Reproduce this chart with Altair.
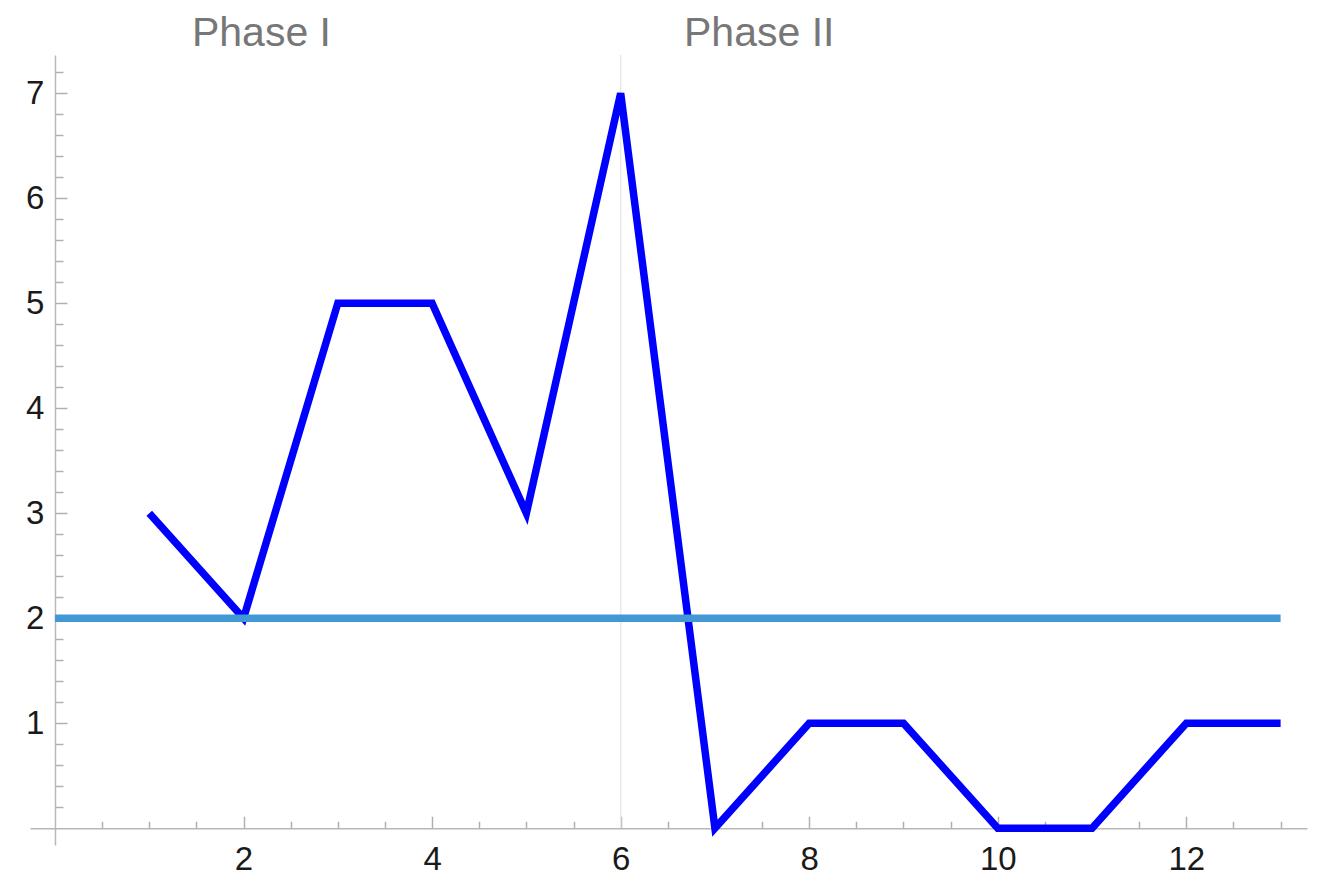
import altair as alt
import pandas as pd

# ---- data ----
session = [1, 2, 3, 4, 5, 6, 7, 8, 9, 10, 11, 12, 13]
count = [3, 2, 5, 5, 3, 7, 0, 1, 1, 0, 0, 1, 1]

criterion_level = [2]
criterion_from = [0]
criterion_to = [13]

phase_change_at = [6]
phase_names = ["Phase I", "Phase II"]
phase_label_x = [2.19, 7.47]
phase_label_y = [7.45, 7.45]

x_major = [2, 4, 6, 8, 10, 12]
x_minor = [0.5, 1, 1.5, 2.5, 3, 3.5, 4.5, 5, 5.5, 6.5, 7, 7.5, 8.5, 9, 9.5,
           10.5, 11, 11.5, 12.5, 13]
y_major = [1, 2, 3, 4, 5, 6, 7]
y_minor = [round(i * 0.2, 1) for i in range(1, 37) if i % 5 != 0]

# ---- layout ----
W, H = 1277, 790
X_DOMAIN = [-0.265, 13.28]
Y_DOMAIN = [-0.16, 7.365]
x_zero_px = (0 - X_DOMAIN[0]) / (X_DOMAIN[1] - X_DOMAIN[0]) * W
y_zero_px = (0 - Y_DOMAIN[0]) / (Y_DOMAIN[1] - Y_DOMAIN[0]) * H

FONT = "Liberation Sans"
AXIS_GRAY = "#b8b8b8"
TICK_GRAY = "#b0b0b0"

xs = alt.Scale(domain=X_DOMAIN, nice=False, zero=False)
ys = alt.Scale(domain=Y_DOMAIN, nice=False, zero=False)

label_x_axis = alt.Axis(orient="bottom", offset=-y_zero_px, values=x_major,
                        ticks=False, grid=False, title=None,
                        domainColor=AXIS_GRAY, domainWidth=1.5,
                        labelFont=FONT, labelFontSize=33, labelColor="#1a1a1a",
                        labelPadding=15, labelFlush=False, labelOverlap=False)
label_y_axis = alt.Axis(orient="left", offset=-x_zero_px, values=y_major,
                        ticks=False, grid=False, title=None,
                        domainColor=AXIS_GRAY, domainWidth=1.5,
                        labelFont=FONT, labelFontSize=33, labelColor="#1a1a1a",
                        labelPadding=11, labelFlush=False, labelOverlap=False)


def tick_axis_x(values, size):
    return alt.Axis(orient="top", offset=-(H - y_zero_px), values=values,
                    domain=False, labels=False, grid=False, title=None,
                    tickSize=size, tickColor=TICK_GRAY, tickWidth=1.5)


def tick_axis_y(values, size):
    return alt.Axis(orient="right", offset=-(W - x_zero_px), values=values,
                    domain=False, labels=False, grid=False, title=None,
                    tickSize=size, tickColor=TICK_GRAY, tickWidth=1.5)


line_df = pd.DataFrame({"session": session, "count": count})
crit_df = pd.DataFrame({"x": criterion_from, "x2": criterion_to,
                        "y": criterion_level})
phase_df = pd.DataFrame({"x": phase_change_at, "y": [0]})
label_df = pd.DataFrame({"name": phase_names, "x": phase_label_x,
                         "y": phase_label_y})

phase_rule = alt.Chart(phase_df).mark_rule(color="#e8e8e8", strokeWidth=1.5).encode(
    x=alt.X("x:Q", scale=xs, axis=label_x_axis),
    y=alt.Y("y:Q", scale=ys, axis=label_y_axis),
    y2=alt.value(0),
)

data_line = alt.Chart(line_df).mark_line(
    color="#0000ff", strokeWidth=7.5, strokeJoin="miter", strokeCap="butt"
).encode(
    x=alt.X("session:Q", scale=xs, axis=tick_axis_x(x_major, 12)),
    y=alt.Y("count:Q", scale=ys, axis=tick_axis_y(y_major, 12)),
)

crit_rule = alt.Chart(crit_df).mark_rule(
    color="#4298d5", strokeWidth=7.5, strokeCap="butt"
).encode(
    x=alt.X("x:Q", scale=xs, axis=tick_axis_x(x_minor, 7)),
    x2="x2:Q",
    y=alt.Y("y:Q", scale=ys, axis=tick_axis_y(y_minor, 8)),
)

phase_text = alt.Chart(label_df).mark_text(
    font=FONT, fontSize=41, color="#777777", align="center",
    baseline="alphabetic"
).encode(
    x=alt.X("x:Q", scale=xs, axis=None),
    y=alt.Y("y:Q", scale=ys, axis=None),
    text="name:N",
)

chart = alt.layer(phase_rule, data_line, crit_rule, phase_text).resolve_scale(
    x="shared", y="shared"
).resolve_axis(
    x="independent", y="independent"
).properties(
    width=W, height=H,
    background="white",
    autosize=alt.AutoSizeParams(type="none"),
    padding={"left": 22, "top": 47, "right": 8, "bottom": 35},
).configure_view(strokeWidth=0)

chart.save("out.html", embed_options={"renderer": "svg", "actions": False})
